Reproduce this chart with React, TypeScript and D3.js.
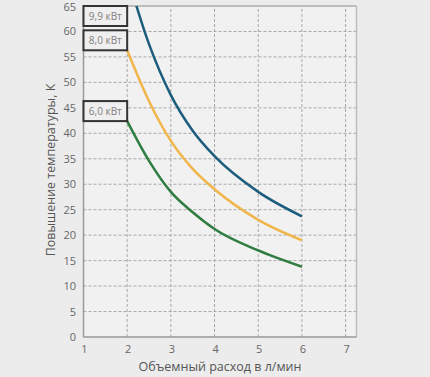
import React from "react";
import * as d3 from "d3";

const flowX = [2, 2.5, 3, 3.5, 4, 5, 6];
const blue99 = [71, 57.5, 47.5, 40.5, 35.5, 28.5, 23.7];
const orange80 = [56.3, 46.3, 38.5, 33, 29, 23, 19];
const green60 = [42.4, 34.6, 28.5, 24.5, 21.2, 17, 13.8];
const seriesLabels = ["9,9 кВт", "8,0 кВт", "6,0 кВт"];
const seriesColors = ["#1c5c7c", "#f0b64c", "#2f7d40"];
const xTicks = [1, 2, 3, 4, 5, 6, 7];
const yTicks = [0, 5, 10, 15, 20, 25, 30, 35, 40, 45, 50, 55, 60, 65];

const W = 430;
const H = 377;

export default function App() {
  const x = d3.scaleLinear().domain([1, 7.25]).range([83.5, 356.5]);
  const y = d3.scaleLinear().domain([0, 65]).range([337, 6]);
  const series = [blue99, orange80, green60];
  const line = d3
    .line<[number, number]>()
    .x((d) => x(d[0]))
    .y((d) => y(d[1]))
    .curve(d3.curveMonotoneX);

  const boxW = x(2) - x(1);
  const boxH = 20;

  return (
    <div style={{ position: "fixed", left: 0, top: 0, width: W, height: H }}>
      <svg width={W} height={H} style={{ display: "block", background: "#ececec" }} fontFamily="'Open Sans', sans-serif">
        <defs>
          <clipPath id="plotclip">
            <rect x={x(1)} y={y(65)} width={x(7.25) - x(1)} height={y(0) - y(65)} />
          </clipPath>
        </defs>
        <rect x={x(1)} y={y(65)} width={x(7.25) - x(1)} height={y(0) - y(65)} fill="#f1f1f1" />
        {xTicks.slice(1).map((t) => (
          <line key={"gx" + t} x1={x(t)} x2={x(t)} y1={y(0)} y2={y(65)} stroke="#a8a8a8" strokeWidth={1} strokeDasharray="3,2" />
        ))}
        {yTicks.slice(1, -1).map((t) => (
          <line key={"gy" + t} x1={x(1)} x2={x(7.25)} y1={y(t)} y2={y(t)} stroke="#a8a8a8" strokeWidth={1} strokeDasharray="3,2" />
        ))}
        <line x1={x(1)} x2={x(7.25)} y1={y(65)} y2={y(65)} stroke="#bdbdbd" strokeWidth={2} />
        <line x1={x(7.25)} x2={x(7.25)} y1={y(65)} y2={y(0)} stroke="#bdbdbd" strokeWidth={1.5} />
        <line x1={x(1)} x2={x(1)} y1={y(65)} y2={y(0)} stroke="#9a9a9a" strokeWidth={1.5} />
        <line x1={x(1)} x2={x(7.25)} y1={y(0)} y2={y(0)} stroke="#9a9a9a" strokeWidth={1.5} />
        <g clipPath="url(#plotclip)">
          {series.map((s, i) => (
            <path
              key={"s" + i}
              d={line(flowX.map((f, j) => [f, s[j]] as [number, number])) || ""}
              fill="none"
              stroke={seriesColors[i]}
              strokeWidth={2.5}
            />
          ))}
        </g>
        {series.map((s, i) => {
          const top = Math.max(y(65), y(s[0]) - boxH);
          return (
            <g key={"b" + i}>
              <rect x={x(1)} y={top} width={boxW} height={boxH} fill="#efefef" stroke="#333" strokeWidth={2} />
              <text x={x(1) + boxW / 2} y={top + boxH / 2 + 3.5} textAnchor="middle" fontSize={10} fill="#808080">
                {seriesLabels[i]}
              </text>
            </g>
          );
        })}
        {yTicks.map((t) => (
          <text key={"ty" + t} x={76} y={Math.max(y(t) + 4, 11)} textAnchor="end" fontSize={11} fill="#666">
            {t}
          </text>
        ))}
        {xTicks.map((t) => (
          <text key={"tx" + t} x={x(t) + 1} y={353} textAnchor="middle" fontSize={11} fill="#666">
            {t}
          </text>
        ))}
        <text x={220} y={371} textAnchor="middle" fontSize={12.5} fill="#555">
          Объемный расход в л/мин
        </text>
        <text transform={`translate(55,170) rotate(-90)`} textAnchor="middle" fontSize={12.5} fill="#555">
          Повышение температуры, К
        </text>
      </svg>
    </div>
  );
}
